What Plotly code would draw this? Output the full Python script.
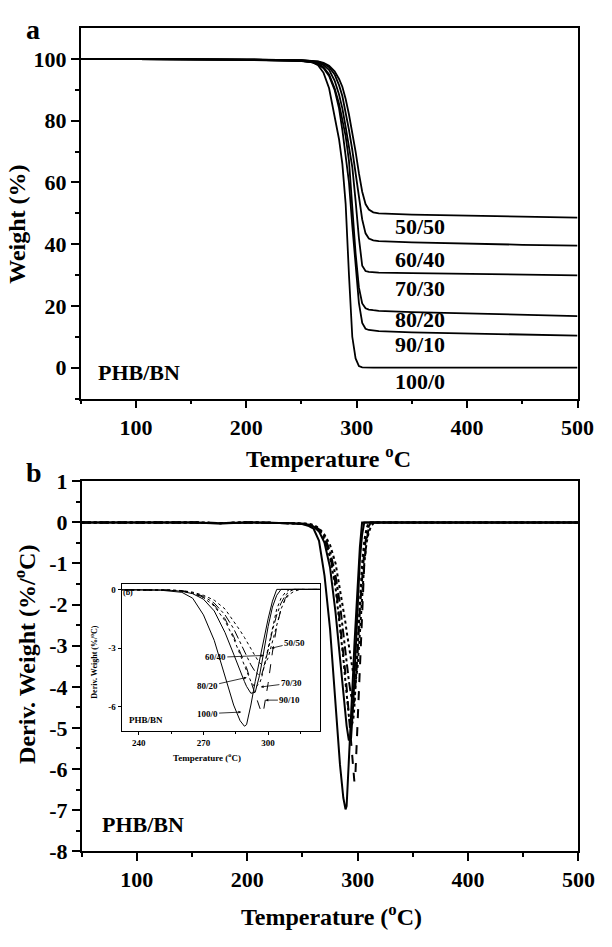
import plotly.graph_objects as go

W, H = 612, 947
FONT = "Liberation Serif"

# ---------------- DATA ----------------
series = ["50/50", "60/40", "70/30", "80/20", "90/10", "100/0"]

# Panel a: TGA weight (%) vs temperature (C)
tga_T = [50, 100, 150, 200, 250, 260, 265, 270, 275, 280, 284, 287, 290, 293, 296, 299,
         302, 305, 308, 311, 315, 320, 350, 400, 450, 500]
tga_100_0 = [100, 100, 99.9, 99.8, 99.4, 98.9, 98.0, 95.5, 90.5, 81.5, 74.0, 66.0, 53.0, 30.0,
             10.0, 3.0, 0.5, 0.1, 0, 0, 0, 0, 0, 0, 0, 0]
tga_90_10 = [100, 100, 99.9, 99.7, 99.3, 98.9, 98.3, 97.0, 94.5, 90.0, 84.0, 77.0, 69.0, 60.0,
             46.0, 33.0, 21.0, 14.5, 12.6, 12.2, 12.0, 11.8, 11.4, 11.0, 10.7, 10.4]
tga_80_20 = [100, 100, 99.9, 99.8, 99.4, 99.0, 98.5, 97.3, 95.0, 90.5, 85.5, 80.5, 75.0, 67.0,
             52.0, 37.0, 26.0, 20.8, 19.2, 18.8, 18.6, 18.4, 18.0, 17.5, 17.1, 16.7]
tga_70_30 = [100, 100, 99.9, 99.8, 99.5, 99.2, 98.8, 98.0, 96.5, 93.0, 88.5, 84.0, 78.0, 72.0,
             65.0, 54.0, 42.0, 33.0, 31.3, 31.0, 30.9, 30.8, 30.6, 30.3, 30.1, 29.9]
tga_60_40 = [100, 100, 99.9, 99.8, 99.6, 99.4, 99.1, 98.5, 97.3, 95.0, 91.5, 88.0, 83.0, 77.0,
             70.5, 63.0, 55.0, 48.0, 43.5, 41.8, 41.2, 41.0, 40.6, 40.1, 39.8, 39.5]
tga_50_50 = [100, 100, 99.9, 99.8, 99.6, 99.4, 99.2, 98.7, 97.8, 96.0, 93.5, 91.0, 87.0, 82.0,
             76.5, 70.0, 63.0, 57.0, 53.0, 51.2, 50.3, 50.0, 49.6, 49.2, 48.9, 48.6]

# Panel b: derivative weight (%/C) vs temperature (C)
dtg_T = [50, 100, 150, 175, 200, 240, 250, 255, 260, 265, 270, 275, 280, 284, 287, 289, 290,
         292, 294, 296, 297, 298, 300, 302, 304, 306, 308, 310, 312, 315, 320, 400, 500]
dtg_100_0 = [0, 0, 0, -0.03, 0, -0.02, -0.04, -0.08, -0.15, -0.45, -1.3, -2.6, -4.4, -5.9, -6.7,
             -6.98, -6.9, -5.9, -4.7, -3.6, -3.0, -2.5, -1.5, -0.6, 0, 0, 0, 0, 0, 0, 0, 0, 0]
dtg_80_20 = [0, 0, 0, -0.02, 0, -0.02, -0.03, -0.05, -0.1, -0.22, -0.5, -1.1, -2.2, -3.3, -4.2,
             -4.7, -4.95, -5.3, -5.25, -4.4, -3.8, -3.1, -1.9, -0.9, -0.3, 0, 0, 0, 0, 0, 0, 0, 0]
dtg_70_30 = [0, 0, 0, -0.02, 0, -0.02, -0.03, -0.05, -0.09, -0.2, -0.42, -0.85, -1.6, -2.5, -3.3,
             -3.9, -4.2, -4.7, -5.0, -4.8, -4.5, -4.0, -2.9, -1.9, -1.0, -0.45, -0.15, 0, 0, 0, 0, 0, 0]
dtg_60_40 = [0, 0, 0, -0.02, 0, -0.02, -0.03, -0.04, -0.07, -0.17, -0.35, -0.7, -1.3, -2.0, -2.7,
             -3.2, -3.4, -3.85, -4.2, -4.4, -4.35, -4.0, -3.1, -2.1, -1.3, -0.7, -0.3, -0.1, 0, 0, 0, 0, 0]
dtg_50_50 = [0, 0, 0, -0.02, 0, -0.02, -0.02, -0.03, -0.06, -0.14, -0.3, -0.55, -1.0, -1.6, -2.1,
             -2.45, -2.65, -3.0, -3.4, -3.75, -3.85, -3.9, -3.5, -2.7, -1.8, -1.0, -0.5, -0.25, -0.1, 0, 0, 0, 0]
dtg_90_10 = [0, 0, 0, -0.02, 0, -0.02, -0.03, -0.04, -0.07, -0.18, -0.4, -0.8, -1.5, -2.4, -3.2,
             -3.7, -4.0, -4.7, -5.4, -6.0, -6.3, -6.1, -4.8, -3.2, -1.9, -1.0, -0.45, -0.15, 0, 0, 0, 0, 0]

# Tick labels
x_main_ticks = [100, 200, 300, 400, 500]
x_main_text = ["100", "200", "300", "400", "500"]
ya_ticks = [0, 20, 40, 60, 80, 100]
ya_text = ["0", "20", "40", "60", "80", "100"]
yb_ticks = [1, 0, -1, -2, -3, -4, -5, -6, -7, -8]
yb_text = ["1", "0", "-1", "-2", "-3", "-4", "-5", "-6", "-7", "-8"]
xi_ticks = [240, 270, 300]
xi_text = ["240", "270", "300"]
yi_ticks = [0, -3, -6]
yi_text = ["0", "-3", "-6"]

# Label positions (panel a: text at x, y; inset: text and arrow tip)
a_label_x = [357, 357, 357, 357.5, 357, 357]
a_label_y = [45.6, 35.1, 25.6, 15.5, 7.4, -4.5]
in_text_x = [312.3, 275.5, 310.8, 271.7, 310.1, 271.7]
in_text_y = [-2.72, -3.47, -4.78, -4.95, -5.65, -6.34]
in_tip_x = [301.5, 298.1, 296.6, 290.1, 298.8, 287.5]
in_tip_y = [-3.0, -3.37, -4.98, -4.49, -5.65, -6.26]

# ---------------- FIGURE ----------------
def px(x):
    return x / W


def py(y):
    return 1 - y / H


fig = go.Figure()

tga = {"50/50": tga_50_50, "60/40": tga_60_40, "70/30": tga_70_30,
       "80/20": tga_80_20, "90/10": tga_90_10, "100/0": tga_100_0}
dtg = {"50/50": dtg_50_50, "60/40": dtg_60_40, "70/30": dtg_70_30,
       "80/20": dtg_80_20, "90/10": dtg_90_10, "100/0": dtg_100_0}
dash = {"50/50": "dot", "60/40": "dashdot", "70/30": "dot",
        "80/20": "solid", "90/10": "dash", "100/0": "solid"}

for s in series:
    fig.add_trace(go.Scatter(x=tga_T, y=tga[s], mode="lines", xaxis="x", yaxis="y",
                             line=dict(color="black", width=1.8), showlegend=False))
for s in series:
    fig.add_trace(go.Scatter(x=dtg_T, y=dtg[s], mode="lines", xaxis="x2", yaxis="y2",
                             line=dict(color="black", width=2, dash=dash[s]), showlegend=False))
for s in series:
    fig.add_trace(go.Scatter(x=dtg_T, y=dtg[s], mode="lines", xaxis="x3", yaxis="y3",
                             line=dict(color="black", width=1, dash=dash[s]), showlegend=False))

tickfont = dict(family=FONT, size=22, color="black", weight="bold")
small_tf = dict(family=FONT, size=9, color="black", weight="bold")

axis_common = dict(showline=True, linecolor="black", linewidth=1.5, mirror=True,
                   ticks="outside", ticklen=8, tickwidth=1.5, tickcolor="black",
                   showgrid=False, zeroline=False, tickfont=tickfont)

fig.update_layout(
    width=W, height=H,
    margin=dict(l=0, r=0, t=0, b=0),
    paper_bgcolor="white", plot_bgcolor="white",
    xaxis=dict(domain=[px(83), px(594)], range=[50, 500], anchor="y",
               tickvals=x_main_ticks, ticktext=x_main_text,
               minor=dict(ticks="outside", ticklen=4, tickwidth=1.5, tickcolor="black",
                          tickvals=[50, 150, 250, 350, 450]),
               **axis_common),
    yaxis=dict(domain=[py(397), py(16.5)], range=[-10, 110], anchor="x",
               tickvals=ya_ticks, ticktext=ya_text,
               minor=dict(ticks="outside", ticklen=4, tickwidth=1.5, tickcolor="black",
                          tickvals=[-10, 10, 30, 50, 70, 90]),
               **axis_common),
    xaxis2=dict(domain=[px(84), px(595)], range=[50, 500], anchor="y2",
                tickvals=x_main_ticks, ticktext=x_main_text,
                minor=dict(ticks="outside", ticklen=4, tickwidth=1.5, tickcolor="black",
                           tickvals=[50, 150, 250, 350, 450]),
                **axis_common),
    yaxis2=dict(domain=[py(862), py(482)], range=[-8, 1], anchor="x2",
                tickvals=yb_ticks, ticktext=yb_text,
                minor=dict(ticks="outside", ticklen=4, tickwidth=1.5, tickcolor="black",
                           tickvals=[0.5, -0.5, -1.5, -2.5, -3.5, -4.5, -5.5, -6.5, -7.5]),
                **axis_common),
    xaxis3=dict(domain=[px(125), px(329)], range=[232, 324], anchor="y3",
                showline=True, linecolor="black", linewidth=1, mirror=True,
                ticks="outside", ticklen=3, tickwidth=1, tickcolor="black",
                tickvals=xi_ticks, ticktext=xi_text, tickfont=small_tf,
                minor=dict(ticks="outside", ticklen=2, tickwidth=1, tickcolor="black",
                           tickvals=[255, 285, 315]),
                showgrid=False, zeroline=False),
    yaxis3=dict(domain=[py(739), py(587)], range=[-7.25, 0.3], anchor="x3",
                showline=True, linecolor="black", linewidth=1, mirror=True,
                ticks="outside", ticklen=3, tickwidth=1, tickcolor="black",
                tickvals=yi_ticks, ticktext=yi_text, tickfont=small_tf,
                showgrid=False, zeroline=False),
)

ann = []
big = dict(family=FONT, size=22, color="black", weight="bold")
title_f = dict(family=FONT, size=24, color="black", weight="bold")


def paper_text(x, y, text, font, angle=0):
    ann.append(dict(x=px(x), y=py(y), xref="paper", yref="paper", text=text, showarrow=False,
                    font=font, textangle=angle, xanchor="center", yanchor="middle"))


paper_text(34, 18, "a", dict(family=FONT, size=28, color="black", weight="bold"))
paper_text(35, 473, "b", dict(family=FONT, size=28, color="black", weight="bold"))
paper_text(338, 457, "Temperature <sup>o</sup>C", title_f)
paper_text(341, 927, "Temperature (<sup>o</sup>C)", title_f)
paper_text(18, 218, "Weight (%)", title_f, -90)
paper_text(25, 660, "Deriv. Weight (%/<sup>o</sup>C)", title_f, -90)
paper_text(213, 765, "Temperature (<sup>o</sup>C)", dict(family=FONT, size=9, color="black", weight="bold"))
paper_text(97, 668, "Deriv. Weight (%/<sup>o</sup>C)", dict(family=FONT, size=8, color="black", weight="bold"), -90)

for s, lx, ly in zip(series, a_label_x, a_label_y):
    ann.append(dict(x=lx, y=ly, xref="x", yref="y", text=s, showarrow=False, font=big))
ann.append(dict(x=102.4, y=-1.7, xref="x", yref="y", text="PHB/BN", showarrow=False, font=big))
ann.append(dict(x=105.2, y=-7.36, xref="x2", yref="y2", text="PHB/BN", showarrow=False, font=big))

inset_f = dict(family=FONT, size=9, color="black", weight="bold")
for s, tx, ty, hx, hy in zip(series, in_text_x, in_text_y, in_tip_x, in_tip_y):
    ann.append(dict(x=hx, y=hy, xref="x3", yref="y3", ax=tx, ay=ty, axref="x3", ayref="y3",
                    text=s, showarrow=True, arrowhead=2, arrowsize=0.7, arrowwidth=0.8,
                    arrowcolor="black", font=inset_f))
ann.append(dict(x=243.2, y=-6.67, xref="x3", yref="y3", text="PHB/BN", showarrow=False, font=inset_f))
ann.append(dict(x=234.9, y=-0.17, xref="x3", yref="y3", text="(b)", showarrow=False,
                font=dict(family=FONT, size=8, color="black", weight="bold")))

fig.update_layout(annotations=ann)
fig.write_html("out.html")
